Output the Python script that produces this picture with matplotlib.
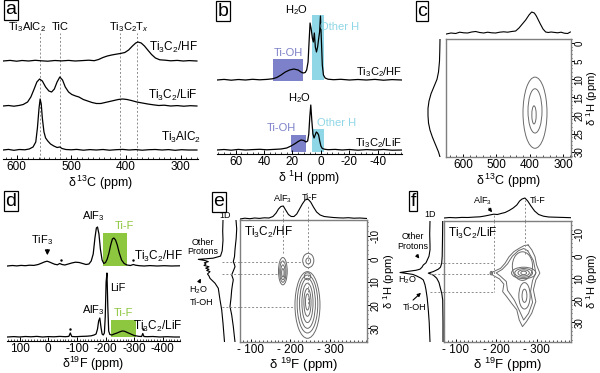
import matplotlib
matplotlib.use("Agg")
import matplotlib.pyplot as plt
from matplotlib.patches import Ellipse, Rectangle
from matplotlib.ticker import MultipleLocator

plt.rcParams['font.family'] = ['Liberation Sans', 'DejaVu Sans']
plt.rcParams['mathtext.fontset'] = 'custom'
plt.rcParams['mathtext.rm'] = 'Liberation Sans'
plt.rcParams['mathtext.it'] = 'Liberation Sans:italic'
plt.rcParams['mathtext.bf'] = 'Liberation Sans:bold'
plt.rcParams['font.size'] = 8.5
plt.rcParams['axes.linewidth'] = 0.8
plt.rcParams['axes.unicode_minus'] = False

# ---------------- data ----------------
# (a) 13C spectra, ppm and relative intensity
a_hf_ppm = [625, 612, 600, 590, 578, 566, 555, 543, 530, 518, 505, 493, 480, 468, 458, 450, 442, 434, 426, 418,
            410, 402, 395, 388, 382, 378, 372, 366, 360, 353, 346, 338, 328, 318, 306, 295, 284, 270]
a_hf_int = [0, 0.6, -0.2, 0.5, 0, 0.7, 0.2, -0.2, 0.5, 0.1, 0.6, 0, 0.4, 0.8, 0.3, 1.5, 3.5, 5, 6, 6.8,
            7.5, 8.5, 11, 15, 18, 19, 18, 15, 11, 6.5, 3, 1.2, 0.8, 0.2, 0.6, 0, 0.4, 0]
a_lif_ppm = [625, 615, 605, 595, 588, 580, 574, 568, 563, 558, 553, 547, 541, 536, 531, 526, 521, 516, 511, 505,
             499, 492, 486, 478, 470, 462, 454, 446, 438, 430, 422, 414, 406, 398, 390, 380, 370, 360, 350, 340,
             330, 318, 306, 294, 282, 270]
a_lif_int = [0, 0.5, -0.2, 0.6, 1.5, 4, 9, 17, 24, 27, 25, 19, 15, 14, 17, 24, 29, 26, 19, 14,
             11.5, 10, 9, 6.5, 5, 3.5, 2.5, 2.5, 3.5, 4.5, 5.5, 6.5, 7, 6.5, 5.5, 4, 3, 2, 1.2, 0.5,
             0.8, 0, 0.4, -0.2, 0.3, 0]
a_max_ppm = [625, 615, 605, 595, 585, 577, 570, 565, 562, 559, 557, 555, 553, 550, 547, 543, 538, 532, 526, 521,
             517, 510, 500, 490, 478, 466, 454, 442, 430, 418, 406, 394, 382, 370, 358, 346, 334, 322, 310, 298,
             286, 270]
a_max_int = [0, 0.6, -0.3, 0.5, 0.2, 1, 3, 8, 22, 42, 51, 46, 32, 18, 12, 9, 6, 4, 2.5, 3,
             1.5, 0.5, 0.2, 0.6, -0.2, 0.4, 0, 0.5, -0.2, 0.3, 0.6, 0, 0.4, -0.2, 0.3, 0.5, 0, 0.4, -0.3, 0.3,
             0, 0]
a_ref_ppm = [557, 520, 410, 380]

# (b) 1H spectra
b_hf_ppm = [73, 68, 63, 58, 53, 48, 43, 38, 34, 31, 28, 25, 22, 19, 16, 14, 12.5, 11, 10, 9,
            8.3, 7.6, 6.8, 6, 5.3, 4.6, 3.9, 3.1, 2.3, 1.5, 0.9, 0.3, -0.3, -1, -1.8, -3, -5, -9, -14, -20,
            -26, -32, -38, -44, -50, -57]
b_hf_int = [0, 0.6, -0.2, 0.5, 0, 0.7, 0.2, 0.6, 1.2, 2.5, 5, 8, 10, 11, 10, 8, 7, 7.5, 10, 18,
            38, 57, 51, 42, 38, 47, 33, 28, 33, 42, 48, 64, 42, 15, 5, 2, 0.8, 0.3, 0.7, 0,
            0.5, 0, 0.6, -0.2, 0.4, 0]
b_lif_ppm = [73, 68, 63, 58, 53, 48, 43, 38, 33, 28, 24, 21, 18, 16, 14, 12, 10.5, 9.3, 8.5, 7.8,
             7.1, 6.4, 5.6, 4.8, 4, 3.2, 2.4, 1.6, 0.8, 0, -1, -2.5, -5, -10, -15, -20, -26, -32, -38, -44,
             -50, -57]
b_lif_int = [0, 0.5, -0.2, 0.6, 0, 0.4, 0.7, 0.2, 0.6, 1, 2, 4, 6.5, 8.5, 10, 9.5, 8, 9, 16, 33,
             45, 30, 16, 12, 15, 18, 17, 15, 9, 4, 1.5, 0.8, 0.3, 0.6, 0, 0.5, -0.2, 0.4, 0, 0.5,
             -0.2, 0]

# (c) 13C-1H HETCOR
c_top_ppm = [650, 636, 622, 610, 598, 586, 574, 562, 550, 538, 526, 514, 502, 490, 478, 466, 454, 442, 432, 422,
             412, 402, 394, 386, 380, 374, 368, 360, 352, 344, 336, 326, 316, 306, 296, 286, 278]
c_top_int = [0, 1, 0.5, 1.8, 1.2, 1, 2, 2.5, 1.5, 1, 1.8, 1.2, 1, 1.8, 2.2, 1.8, 2.5, 3, 6, 10,
             14, 19, 22, 21, 18, 14, 10, 5, 2, 1.5, 2, 1.6, 1.2, 1.8, 0.8, 0.5, 2]
c_left_h = [-1, 2, 5, 8, 10, 12, 14, 16, 18, 20, 22, 24, 26, 28, 30, 31.4]
c_left_int = [0, 0.2, 0.5, 1.5, 3, 6, 9, 11, 12, 12, 11.5, 10, 7.5, 4.5, 1.5, 0]
c_cont_c = [384, 384, 387]
c_cont_h = [19.2, 18.7, 19.8]
c_cont_dc = [36, 21, 6.5]
c_cont_dh = [9.8, 6.1, 2.5]

# (d) 19F spectra
d_hf_ppm = [143, 125, 110, 95, 80, 65, 50, 35, 22, 12, 4, -4, -12, -22, -32, -40, -48, -58, -70, -82,
            -95, -108, -120, -132, -142, -150, -157, -163, -168, -172, -177, -182, -188, -194, -200, -206, -212,
            -218, -224, -229, -235, -241, -248, -256, -265, -275, -287, -297, -305, -318, -335, -355, -380, -405,
            -430, -460]
d_hf_int = [0, 0.5, 0.1, 0.6, 0.3, 0.8, 0.6, 1.5, 3, 4.2, 4.8, 4, 3, 1.8, 1.2, 2.5, 1.5, 1, 2, 3,
            3.8, 3.5, 2.5, 1.5, 2, 5, 12, 28, 38, 39, 32, 17, 6, 2.5, 3.5, 7, 13,
            21, 27, 28, 26, 21, 13, 6, 2.5, 1, 0.5, 1.5, 0.8, 0.3, 0, 0.4, 0, 0.3,
            0, 0.2]
d_lif_ppm = [143, 120, 100, 80, 60, 40, 20, 0, -20, -40, -60, -72, -77, -82, -95, -115, -135, -150, -160, -167,
             -172, -176, -180, -184, -188, -192, -196, -199, -202, -205, -208, -211, -215, -222, -230, -240, -250,
             -258, -266, -276, -288, -300, -315, -326, -330, -334, -345, -365, -390, -415, -440, -460]
d_lif_int = [0, 0.4, 0, 0.5, 0.2, 0.6, 0, 0.4, 0.2, 0.6, 0.3, 0.6, 4, 0.5, 0.3, 0.6, 0.8, 1.2, 2, 3,
             8, 16, 19, 10, 3, 2, 4, 20, 55, 64, 30, 6, 2.5, 2, 3, 4, 5.2,
             6, 5.8, 4.5, 3, 1.5, 0.7, 0.5, 3.5, 0.5, 0.3, 0.5, 0, 0.3, 0, 0]
d_hf_ssb = [-45, -296]
d_lif_ssb = [-77, -330]

# (e) 19F-1H HETCOR, Ti3C2/HF
e_top_ppm = [-73, -85, -98, -110, -122, -134, -146, -156, -164, -170, -176, -182, -188, -195, -202, -209, -216,
             -223, -230, -237, -244, -251, -258, -266, -275, -285, -296, -308, -320, -333, -346, -360, -375, -393]
e_top_int = [0, 0.8, 0.3, 1, 0.6, 1.2, 1, 2.5, 6, 10, 12.5, 13, 9, 4.5, 2.5, 2.5, 5,
             10, 15, 19, 20, 17, 12, 7, 4, 2.5, 2, 1.5, 1.2, 1, 1.3, 0.8, 1, 0.5]
e_1d_h = [-16.8, -12, -8, -3.5, -1.2, -0.3, 0.2, 0.7, 1.2, 1.7, 2.2, 2.8, 3.4, 4.0, 4.5, 5.0, 5.5, 6.5, 7.4,
          8.4, 10.5, 12.7, 17.7, 22, 27.8, 35.9]
e_1d_int = [0, 0.3, 0, 0.8, 2.5, 10, 24.7, 18, 14.7, 18.7, 17, 19, 14, 17.3, 14, 16.3, 13, 15.5, 14,
            13, 8, 4.7, 3, 1.3, 0, -1.5]
e_proj_h = [-16.8, -13, -9, -4, -1, 1.2, 2.5, 3.4, 5, 6.9, 9, 11, 13.4, 17, 20.6, 24.2, 29.2, 32, 35.9]
e_proj_int = [1, 0.3, 0.8, 2, 2.5, 3.7, 2.5, 2, 3.5, 5.3, 3.7, 4.5, 5.3, 6, 7, 5.3, 3.7, 3, 2]
e_cont_f = [-181, -181, -181, -181, -245, -245, -243, -243, -243, -243, -243, -243, -243]
e_cont_h = [5.3, 5.5, 5.8, 6.0, 0.7, 0.9, 19.9, 19.5, 19.2, 19.0, 18.8, 18.6, 7.5]
e_cont_df = [11, 8, 5.5, 3, 14, 6, 31.5, 26, 20, 14, 9, 5, 8]
e_cont_dh = [5.9, 4.6, 3.2, 1.8, 3.1, 1.3, 14.4, 12.5, 10.8, 8.5, 6, 3.5, 1.5]
e_mark_h = [1.5, 6.5, 20.6]
e_mark_h_end = [-231, -170, -210]
e_mark_f = [-181, -243.6]
e_mark_f_end = [-1.7, 20]

# (f) 19F-1H HETCOR, Ti3C2/LiF
f_top_ppm = [-71, -85, -100, -115, -130, -145, -160, -172, -184, -194, -203, -212, -222, -232, -242, -251, -258,
             -264, -271, -278, -286, -295, -305, -317, -330, -345, -362, -385]
f_top_int = [0, 0.5, 0.2, 0.6, 0.5, 0.9, 1.2, 2, 3, 3.8, 3.5, 4.5, 5.5, 7.5, 10, 13, 17,
             19, 20, 17, 12, 7, 3.5, 1.8, 1, 0.8, 0.6, 0.3]
f_1d_h = [-16, -10, -5, -2.9, 0, 1.7, 3, 4.0, 5.0, 5.9, 6.4, 6.9, 7.4, 7.8, 8.3, 9.0, 10, 10.8, 13, 15.3,
          19, 24.4, 30, 39]
f_1d_int = [0, 0.3, 0, 0, 1, 2.7, 4, 6.7, 8, 10, 14, 22, 30, 24, 17, 13.3, 9, 6.7, 5, 4,
            2.8, 1.7, 0.8, 0]
f_proj_h = [-16, -8, 0, 3.2, 5, 5.9, 7, 7.7, 8.6, 10, 12, 13.8, 17, 19.9, 30, 39]
f_proj_int = [0.3, 0.5, 0.8, 1.3, 2.5, 4.7, 9.7, 14.7, 9.7, 6.3, 4, 3, 1.2, 0.3, 0, 0]
f_outer_f = [-279, -288, -296, -300, -308, -298, -292, -298, -288, -275, -265, -257, -251, -238, -226, -216, -219,
             -208, -193, -186, -197, -211, -222, -232, -244, -257, -269, -279]
f_outer_h = [-5.1, -2.9, 0.2, 4, 7.7, 10.8, 15.3, 20.6, 25.9, 29.7, 32, 29, 24.4, 21.4, 18.4, 16.1, 12.7,
             10.3, 8.8, 7.7, 6.7, 5.5, 3.2, 0.2, -2.1, -3.6, -4.8, -5.1]
f_inner_f = [-278, -292, -298, -290, -285, -290, -280, -268, -258, -245, -228, -225, -210, -200, -215, -228,
             -240, -255, -268, -278]
f_inner_h = [-2.5, 2, 7.5, 11, 16, 21, 26, 29, 25, 20, 15.5, 11.5, 9, 7.6, 6, 3.5, 0, -2.5, -3.5, -2.5]
f_cont_f = [-268, -268, -268, -268, -265, -270, -270, -188]
f_cont_h = [7.6, 7.6, 7.6, 7.6, 4.5, 18, 18, 7.7]
f_cont_df = [30, 22, 14, 7, 25, 14, 6, 3]
f_cont_dh = [2.6, 2.0, 1.4, 0.8, 6.5, 6, 3, 0.8]
f_mark_h = [3.2, 8.2, 16.1]
f_mark_h_end = [-195, -186, -195]
f_mark_f = [-195, -271]
f_mark_f_end = [16.1, 0]

# ---------------- figure ----------------
W, H = 600, 373
fig = plt.figure(figsize=(6, 3.73), dpi=100)

DASH = (0, (2, 2))
GRID_C = '#8c8c8c'
FRAME_C = '#7f7f7f'
CONT_C = '#6a6a6a'
TIOH_C = '#7d81c9'
OTHERH_C = '#8fd6e6'
TIF_C = '#8dc63f'


def add_ax(x0, y0, x1, y1):
    ax = fig.add_axes([x0 / W, 1 - y1 / H, (x1 - x0) / W, (y1 - y0) / H])
    ax.patch.set_alpha(0)
    return ax


def spectrum_style(ax, minor):
    for s in ['left', 'right', 'top']:
        ax.spines[s].set_visible(False)
    ax.set_yticks([])
    ax.xaxis.set_minor_locator(MultipleLocator(minor))
    ax.tick_params(axis='x', which='major', direction='in', length=3, width=0.7, pad=1.5)
    ax.tick_params(axis='x', which='minor', direction='in', length=1.6, width=0.5)


def twod_style(ax, xminor, yminor):
    for s in ax.spines.values():
        s.set_color(FRAME_C)
        s.set_linewidth(1.0)
    ax.yaxis.tick_right()
    ax.yaxis.set_label_position('right')
    ax.xaxis.set_minor_locator(MultipleLocator(xminor))
    ax.yaxis.set_minor_locator(MultipleLocator(yminor))
    ax.tick_params(axis='x', which='major', direction='in', length=2.5, width=0.7, pad=1.5)
    ax.tick_params(axis='x', which='minor', direction='in', length=1.3, width=0.5)
    ax.tick_params(axis='y', which='major', direction='out', length=2, width=0.7, pad=0.5,
                   labelrotation=90, labelsize=7)
    ax.tick_params(axis='y', which='minor', direction='out', length=1, width=0.5)
    for lab in ax.get_yticklabels():
        lab.set_verticalalignment('center')


def right_label(ax, xpx, x0, x1, s):
    # vertical axis title placed at a fixed pixel column right of the frame
    ax.text((xpx - x0) / (x1 - x0), 0.5, s, transform=ax.transAxes, rotation=90,
            ha='center', va='center', fontsize=8)


def panel_label(x, y, s):
    fig.text(x / W, 1 - y / H, s, fontsize=14, ha='center', va='center',
             bbox=dict(boxstyle='square,pad=0.06', fc='white', ec='black', lw=0.9))


def shift(vals, off):
    return [v + off for v in vals]


# ---- panel a ----
ax = add_ax(3, 20, 198, 159)
ax.set_xlim(625, 268)
ax.set_ylim(0, 139)
ax.vlines(a_ref_ppm, 0, 126, colors=GRID_C, linestyles=DASH, lw=0.7)
ax.plot(a_hf_ppm, shift(a_hf_int, 98), color='k', lw=0.9)
ax.plot(a_lif_ppm, shift(a_lif_int, 53), color='k', lw=0.9)
ax.plot(a_max_ppm, shift(a_max_int, 9), color='k', lw=0.9)
ax.text(581, 132, 'Ti$_3$AlC$_2$', ha='center', va='center', fontsize=8)
ax.text(520, 132, 'TiC', ha='center', va='center', fontsize=8)
ax.text(394, 132, 'Ti$_3$C$_2$T$_x$', ha='center', va='center', fontsize=8)
ax.text(268, 112, 'Ti$_3$C$_2$/HF', ha='right', va='center', fontsize=8.5)
ax.text(268, 64, 'Ti$_3$C$_2$/LiF', ha='right', va='center', fontsize=8.5)
ax.text(262, 22, 'Ti$_3$AlC$_2$', ha='right', va='center', fontsize=8.5)
ax.set_xticks([600, 500, 400, 300])
spectrum_style(ax, 10)
ax.set_xlabel(r'δ$\,^{13}$C (ppm)', fontsize=9, labelpad=0.5)

# ---- panel b ----
ax = add_ax(217, 5, 402, 154)
ax.set_xlim(73, -57)
ax.set_ylim(0, 149)
ax.add_patch(Rectangle((12.5, 73), 21.5, 22, fc=TIOH_C, ec='none', zorder=1))
ax.add_patch(Rectangle((-2, 74), 8, 65, fc=OTHERH_C, ec='none', zorder=1))
ax.add_patch(Rectangle((10.5, 2), 10.5, 17, fc=TIOH_C, ec='none', zorder=1))
ax.add_patch(Rectangle((-2, 2), 8, 23, fc=OTHERH_C, ec='none', zorder=1))
ax.plot(b_hf_ppm, shift(b_hf_int, 74), color='k', lw=0.9, zorder=3)
ax.plot(b_lif_ppm, shift(b_lif_int, 4), color='k', lw=0.9, zorder=3)
ax.text(17, 144, 'H$_2$O', ha='center', va='center', fontsize=8)
ax.text(23, 101, 'Ti-OH', ha='center', va='center', fontsize=8, color=TIOH_C)
ax.text(-13, 127, 'Other H', ha='center', va='center', fontsize=8, color=OTHERH_C)
ax.text(-57, 82, 'Ti$_3$C$_2$/HF', ha='right', va='center', fontsize=8)
ax.text(15, 56, 'H$_2$O', ha='center', va='center', fontsize=8)
ax.text(28, 26, 'Ti-OH', ha='center', va='center', fontsize=8, color=TIOH_C)
ax.text(-11, 31, 'Other H', ha='center', va='center', fontsize=8, color=OTHERH_C)
ax.text(-57, 11, 'Ti$_3$C$_2$/LiF', ha='right', va='center', fontsize=8)
ax.set_xticks([60, 40, 20, 0, -20, -40])
spectrum_style(ax, 4)
ax.set_xlabel(r'δ $^{1}$H (ppm)', fontsize=9, labelpad=0.5)

# ---- panel c ----
ax = add_ax(446, 39, 571, 157)
ax.set_xlim(651, 276)
ax.set_ylim(31.4, -1.1)
for cx, cy, dx, dy in zip(c_cont_c, c_cont_h, c_cont_dc, c_cont_dh):
    ax.add_patch(Ellipse((cx, cy), 2 * dx, 2 * dy, fill=False, ec=CONT_C, lw=0.7))
ax.set_xticks([600, 500, 400, 300])
ax.set_yticks([0, 5, 10, 15, 20, 25, 30])
twod_style(ax, 20, 1)
ax.set_xlabel(r'δ$\,^{13}$C (ppm)', fontsize=9, labelpad=0.5)
right_label(ax, 592, 446, 571, r'δ $^{1}$H (ppm)')

ax = add_ax(446, 8, 571, 39)
ax.set_xlim(651, 276)
ax.set_ylim(-5, 26)
ax.plot(c_top_ppm, c_top_int, color='k', lw=0.8)
ax.axis('off')

ax = add_ax(420, 39, 446, 157)
ax.set_ylim(31.4, -1.1)
ax.set_xlim(20, -6)
ax.plot(c_left_int, c_left_h, color='k', lw=0.8)
ax.axis('off')

# ---- panel d ----
ax = add_ax(7, 205, 180, 341)
ax.set_xlim(144, -460)
ax.set_ylim(0, 136)
ax.add_patch(Rectangle((-275, 75), 84, 33, fc=TIF_C, ec='none', zorder=1))
ax.add_patch(Rectangle((-306, 4), 87, 17, fc=TIF_C, ec='none', zorder=1))
ax.plot(d_hf_ppm, shift(d_hf_int, 75), color='k', lw=0.9, zorder=3)
ax.plot(d_lif_ppm, shift(d_lif_int, 4), color='k', lw=0.9, zorder=3)
ax.plot(d_hf_ssb, [81, 81], ls='none', marker='.', ms=1.5, color='k')
ax.plot(d_lif_ssb, [12, 12], ls='none', marker='.', ms=1.5, color='k')
ax.text(21, 101, 'TiF$_3$', ha='center', va='center', fontsize=8)
ax.annotate('', xy=(3, 83), xytext=(3, 94),
            arrowprops=dict(arrowstyle='-|>', lw=0.9, color='k', mutation_scale=7))
ax.text(-157, 125, 'AlF$_3$', ha='center', va='center', fontsize=8)
ax.text(-265, 115, 'Ti-F', ha='center', va='center', fontsize=8, color=TIF_C)
ax.text(-470, 85, 'Ti$_3$C$_2$/HF', ha='right', va='center', fontsize=8.5)
ax.text(-242, 53, 'LiF', ha='center', va='center', fontsize=8)
ax.text(-157, 31, 'AlF$_3$', ha='center', va='center', fontsize=8)
ax.text(-262, 28, 'Ti-F', ha='center', va='center', fontsize=8, color=TIF_C)
ax.text(-470, 15, 'Ti$_3$C$_2$/LiF', ha='right', va='center', fontsize=8.5)
ax.set_xticks([100, 0, -100, -200, -300, -400])
spectrum_style(ax, 10)
ax.set_xlabel(r'δ$^{19}$F (ppm)', fontsize=9, labelpad=0)

# ---- panel e ----
ax = add_ax(240, 220, 367, 342)
ax.set_xlim(-73, -393)
ax.set_ylim(35.9, -16.8)
for cx, cy, dx, dy in zip(e_cont_f, e_cont_h, e_cont_df, e_cont_dh):
    ax.add_patch(Ellipse((cx, cy), 2 * dx, 2 * dy, fill=False, ec=CONT_C, lw=0.7))
for yv, xe in zip(e_mark_h, e_mark_h_end):
    ax.plot([-73, xe], [yv, yv], color=GRID_C, ls=DASH, lw=0.7)
for xv, ye in zip(e_mark_f, e_mark_f_end):
    ax.plot([xv, xv], [-16.8, ye], color=GRID_C, ls=DASH, lw=0.7)
ax.text(0.03, 0.96, 'Ti$_3$C$_2$/HF', transform=ax.transAxes, ha='left', va='top', fontsize=8.5)
ax.set_xticks([-100, -200, -300])
ax.set_xticklabels(['- 100', '- 200', '- 300'])
ax.set_yticks([-10, 0, 10, 20, 30])
twod_style(ax, 10, 2)
ax.set_xlabel(r'δ $^{19}$F (ppm)', fontsize=9.5, labelpad=0)
right_label(ax, 389, 240, 367, r'δ $^{1}$H (ppm)')

ax = add_ax(240, 190, 367, 220)
ax.set_xlim(-73, -393)
ax.set_ylim(-1, 29)
ax.plot(e_top_ppm, e_top_int, color='k', lw=0.8)
ax.vlines(e_mark_f, -1, [9, 14], colors=GRID_C, linestyles=DASH, lw=0.7)
ax.text(-181, 20, 'AlF$_3$', ha='center', va='center', fontsize=6.5)
ax.text(-249, 21, 'Ti-F', ha='center', va='center', fontsize=6.5)
ax.axis('off')

ax = add_ax(190, 220, 240, 342)
ax.set_ylim(35.9, -16.8)
ax.set_xlim(50, 0)
ax.plot(shift(e_1d_int, 17), e_1d_h, color='k', lw=0.8)
ax.plot(shift(e_proj_int, 3), e_proj_h, color='k', lw=0.8)
ax.hlines(e_mark_h, 18, 0, colors=GRID_C, linestyles=DASH, lw=0.7)
ax.text(15, -18.9, '1D', ha='center', va='center', fontsize=6.5)
ax.text(37, -5.1, 'Other\nProtons', ha='center', va='center', fontsize=6.5, linespacing=1.1)
ax.text(42, 13.4, 'H$_2$O', ha='center', va='center', fontsize=6.5)
ax.text(38, 18.8, 'Ti-OH', ha='center', va='center', fontsize=6.5)
ax.annotate('', xy=(38, 7.4), xytext=(42, 11),
            arrowprops=dict(arrowstyle='-|>', lw=0.8, color='k', mutation_scale=5))
ax.axis('off')

# ---- panel f ----
ax = add_ax(444, 221, 571, 342)
ax.set_xlim(-71, -385)
ax.set_ylim(39, -16)
ax.plot(f_outer_f, f_outer_h, color=CONT_C, lw=0.7)
ax.plot(f_inner_f, f_inner_h, color=CONT_C, lw=0.7)
for cx, cy, dx, dy in zip(f_cont_f, f_cont_h, f_cont_df, f_cont_dh):
    ax.add_patch(Ellipse((cx, cy), 2 * dx, 2 * dy, fill=False, ec=CONT_C, lw=0.7))
for yv, xe in zip(f_mark_h, f_mark_h_end):
    ax.plot([-71, xe], [yv, yv], color=GRID_C, ls=DASH, lw=0.7)
for xv, ye in zip(f_mark_f, f_mark_f_end):
    ax.plot([xv, xv], [-16, ye], color=GRID_C, ls=DASH, lw=0.7)
ax.text(0.03, 0.96, 'Ti$_3$C$_2$/LiF', transform=ax.transAxes, ha='left', va='top', fontsize=8.5)
ax.set_xticks([-100, -200, -300])
ax.set_xticklabels(['- 100', '- 200', '- 300'])
ax.set_yticks([-10, 0, 10, 20, 30])
twod_style(ax, 10, 2)
ax.set_xlabel(r'δ $^{19}$F (ppm)', fontsize=9.5, labelpad=0)
right_label(ax, 592, 444, 571, r'δ $^{1}$H (ppm)')

ax = add_ax(444, 192, 571, 221)
ax.set_xlim(-71, -385)
ax.set_ylim(-3, 26)
ax.plot(f_top_ppm, f_top_int, color='k', lw=0.8)
ax.vlines(f_mark_f, -3, [2.5, 18], colors=GRID_C, linestyles=DASH, lw=0.7)
ax.text(-167, 17, 'AlF$_3$', ha='center', va='center', fontsize=6.5)
ax.annotate('', xy=(-194, 3.5), xytext=(-178, 12),
            arrowprops=dict(arrowstyle='-|>', lw=0.8, color='k', mutation_scale=5))
ax.text(-303, 17, 'Ti-F', ha='center', va='center', fontsize=6.5)
ax.axis('off')

ax = add_ax(390, 221, 444, 342)
ax.set_ylim(39, -16)
ax.set_xlim(54, 0)
ax.plot(shift(f_1d_int, 14), f_1d_h, color='k', lw=0.8)
ax.plot(shift(f_proj_int, 1), f_proj_h, color='k', lw=0.8)
ax.hlines(f_mark_h, 14, 0, colors=GRID_C, linestyles=DASH, lw=0.7)
ax.text(14, -18.8, '1D', ha='center', va='center', fontsize=6.5)
ax.text(31, -6.7, 'Other\nProtons', ha='center', va='center', fontsize=6.5, linespacing=1.1)
ax.annotate('', xy=(23, 2.1), xytext=(29, -1.5),
            arrowprops=dict(arrowstyle='-|>', lw=0.8, color='k', mutation_scale=5))
ax.text(37, 10.8, 'H$_2$O', ha='center', va='center', fontsize=6.5)
ax.text(29, 23.5, 'Ti-OH', ha='center', va='center', fontsize=6.5)
ax.annotate('', xy=(21, 15.8), xytext=(33, 20.8),
            arrowprops=dict(arrowstyle='-|>', lw=0.8, color='k', mutation_scale=5))
ax.axis('off')

# ---- panel letters ----
panel_label(11, 10, 'a')
panel_label(223, 11, 'b')
panel_label(422, 11, 'c')
panel_label(11, 201, 'd')
panel_label(219, 202, 'e')
panel_label(413, 201, 'f')

fig.savefig('out.png', dpi=100)
